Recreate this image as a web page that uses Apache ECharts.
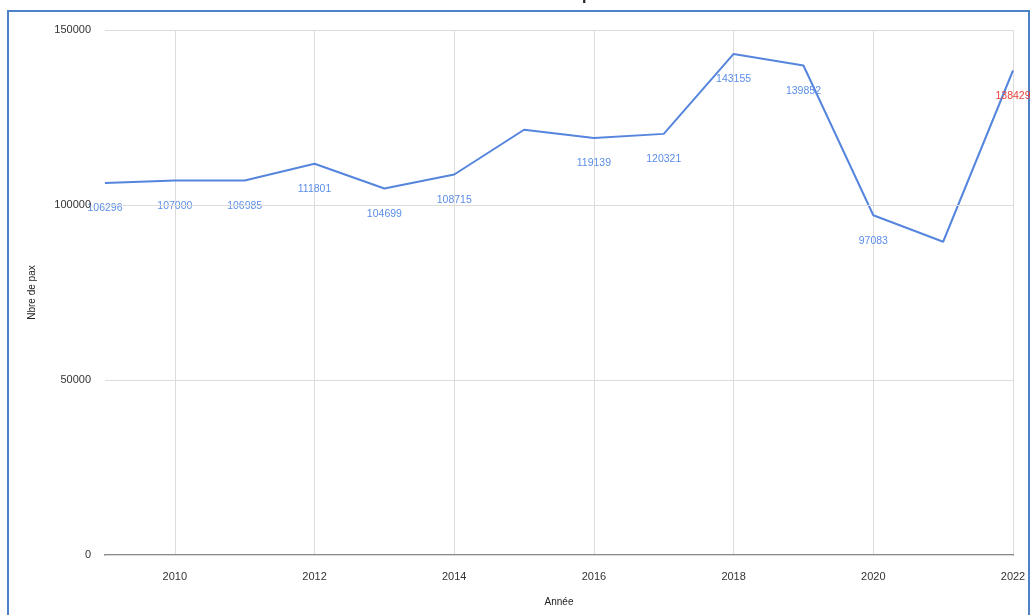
<!DOCTYPE html>
<html>
<head>
<meta charset="utf-8">
<script src="https://cdn.jsdelivr.net/npm/echarts@6/dist/echarts.min.js"></script>
<style>
  html, body { margin: 0; padding: 0; background: #ffffff; }
  #chart { width: 1036px; height: 615px; }
</style>
</head>
<body>
<div id="chart"></div>
<script>
// Yearly passenger counts
const years = ['2009','2010','2011','2012','2013','2014','2015','2016','2017','2018','2019','2020','2021','2022'];
const pax = [106296, 107000, 106985, 111801, 104699, 108715, 121500, 119139, 120321, 143155, 139852, 97083, 89500, 138429];
// Years whose value is printed under the point
const labelled = [true, true, true, true, true, true, false, true, true, true, true, true, false, true];
// Year whose label is highlighted
const highlightYear = '2022';
const yTicks = [0, 50000, 100000, 150000];

const chart = echarts.init(document.getElementById('chart'));
const font = 'Liberation Sans, Arial, sans-serif';

const seriesData = pax.map((v, i) => ({
  value: v,
  label: {
    show: labelled[i],
    color: years[i] === highlightYear ? '#e8413a' : '#5b8ee8'
  }
}));

chart.setOption({
  animation: false,
  title: {
    text: 'Nbre de pax',
    left: 513,
    top: -17,
    textStyle: { fontFamily: font, fontSize: 16, fontWeight: 'bold', color: '#222' }
  },
  graphic: [{
    type: 'rect',
    shape: { x: 8, y: 11, width: 1021, height: 620 },
    style: { fill: 'none', stroke: '#4f81c7', lineWidth: 2 },
    silent: true
  }],
  grid: { left: 105, right: 23, top: 30, bottom: 60 },
  xAxis: {
    type: 'category',
    data: years,
    boundaryGap: false,
    name: 'Année',
    nameLocation: 'middle',
    nameGap: 42,
    nameTextStyle: { fontFamily: font, fontSize: 10, color: '#222' },
    axisLine: { lineStyle: { color: '#888', width: 2 } },
    axisTick: { show: false },
    axisLabel: {
      interval: (i, v) => Number(v) % 2 === 0,
      fontFamily: font, fontSize: 11, color: '#333', margin: 16
    },
    splitLine: {
      show: true,
      interval: (i, v) => Number(v) % 2 === 0,
      lineStyle: { color: '#dcdcdc', width: 1 }
    }
  },
  yAxis: {
    type: 'value',
    min: yTicks[0],
    max: yTicks[yTicks.length - 1],
    interval: yTicks[1] - yTicks[0],
    name: 'Nbre de pax',
    nameLocation: 'middle',
    nameGap: 68,
    nameTextStyle: { fontFamily: font, fontSize: 10, color: '#222' },
    axisLine: { show: false },
    axisTick: { show: false },
    axisLabel: {
      formatter: v => String(v),
      fontFamily: font, fontSize: 11, color: '#333', margin: 14
    },
    splitLine: { lineStyle: { color: '#dcdcdc', width: 1 } },
    z: 5
  },
  series: [{
    type: 'line',
    data: seriesData,
    symbol: 'circle',
    symbolSize: 0,
    showSymbol: true,
    lineStyle: { color: '#5585dc', width: 2 },
    label: {
      show: true,
      position: 'bottom',
      distance: 20,
      fontFamily: font,
      fontSize: 10.5
    },
    labelLayout: { hideOverlap: false }
  }]
});
</script>
</body>
</html>
